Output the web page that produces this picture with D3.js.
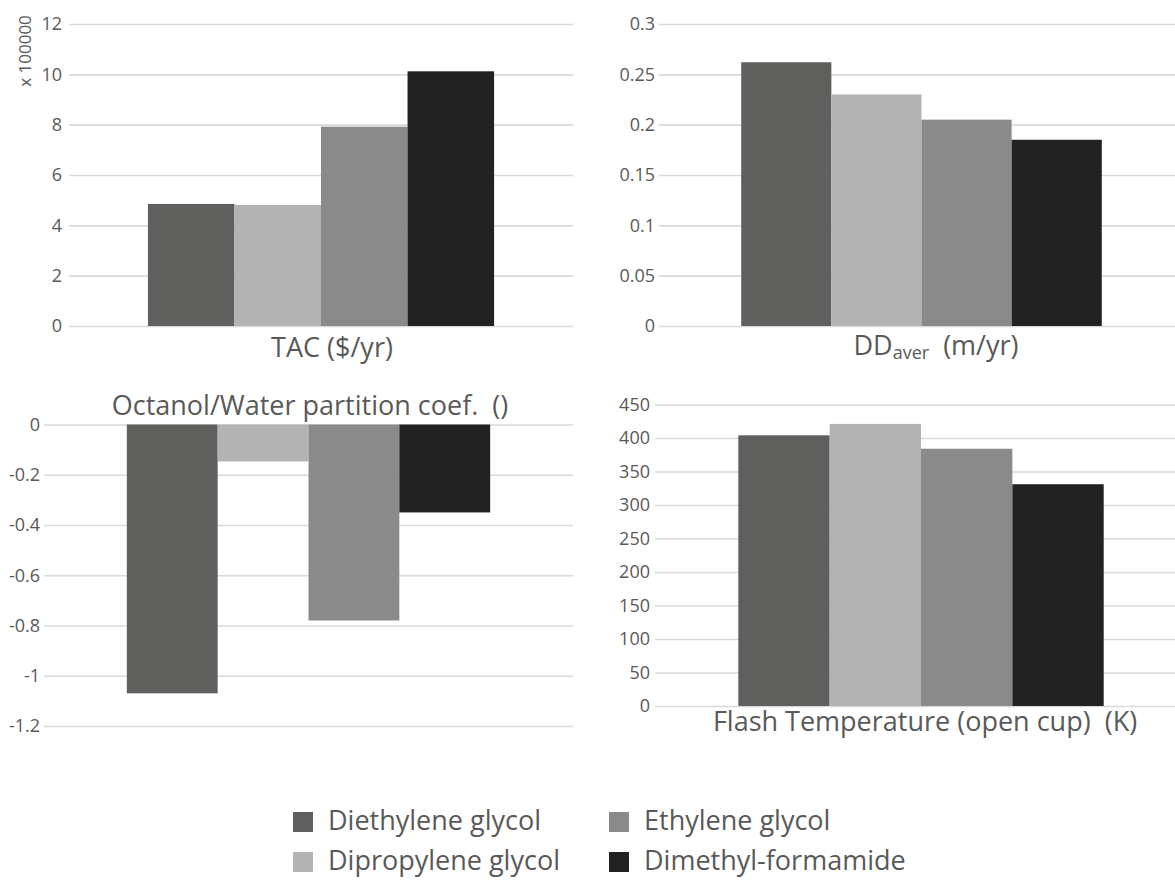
<!DOCTYPE html>
<html>
<head>
<meta charset="utf-8">
<script src="https://cdn.jsdelivr.net/npm/d3@7"></script>
<style>
  body { margin: 0; background: #fff; }
  svg text { font-family: "Open Sans", sans-serif; fill: #595959; white-space: pre; }
</style>
</head>
<body>
<svg id="chart"></svg>
<script>
const width = 1175;
const height = 882;

const solvents = ["Diethylene glycol", "Dipropylene glycol", "Ethylene glycol", "Dimethyl-formamide"];
const colors = ["#5f5f5d", "#b3b3b3", "#898a89", "#222222"];

// TAC in units of 100000 $/yr
const tacValues = [4.85, 4.81, 7.92, 10.12];
const tacTicks = [0, 2, 4, 6, 8, 10, 12];
const ddAverValues = [0.262, 0.230, 0.205, 0.185];
const ddAverTicks = [0, 0.05, 0.1, 0.15, 0.2, 0.25, 0.3];
const kowValues = [-1.07, -0.147, -0.78, -0.35];
const kowTicks = [-1.2, -1, -0.8, -0.6, -0.4, -0.2, 0];
const flashValues = [404, 421, 384, 331];
const flashTicks = [0, 50, 100, 150, 200, 250, 300, 350, 400, 450];

const svg = d3.select("#chart").attr("width", width).attr("height", height);

const color = d3.scaleOrdinal().domain(solvents).range(colors);

function drawPanel(p) {
  const g = svg.append("g");

  const y = d3.scaleLinear().domain(p.domain).range(p.yRange);

  // one category per panel, solvents side by side inside it
  const outer = d3.scaleBand().domain([p.name]).range(p.xRange).paddingOuter(0.228);
  const inner = d3.scaleBand().domain(solvents).range([0, outer.bandwidth()]);

  const axis = g.append("g")
    .attr("transform", `translate(${p.xRange[0]},0)`)
    .call(
      d3.axisLeft(y)
        .tickValues(p.ticks)
        .tickFormat((d) => String(d))
        .tickSize(-(p.xRange[1] - p.xRange[0]))
        .tickPadding(p.pad)
    );
  axis.select(".domain").remove();
  axis.selectAll(".tick line").attr("stroke", "#d9d9d9").attr("stroke-width", 1.6);
  axis.selectAll(".tick text")
    .attr("font-size", "18px")
    .attr("font-family", "Open Sans, sans-serif")
    .attr("fill", "#595959");

  g.selectAll("rect")
    .data(p.values)
    .join("rect")
    .attr("x", (d, i) => outer(p.name) + inner(solvents[i]))
    .attr("width", inner.bandwidth())
    .attr("y", (d) => Math.min(y(0), y(d)))
    .attr("height", (d) => Math.abs(y(d) - y(0)))
    .attr("fill", (d, i) => color(solvents[i]));

  const title = g.append("text")
    .attr("x", p.titleX)
    .attr("y", p.titleY)
    .attr("text-anchor", "middle")
    .attr("font-size", "27px");
  p.title.forEach((part) => {
    title.append("tspan")
      .attr("font-size", part.size || null)
      .attr("dy", part.dy || null)
      .text(part.text);
  });
}

drawPanel({
  name: "TAC",
  values: tacValues,
  ticks: tacTicks,
  domain: [0, 12],
  yRange: [326, 24],
  xRange: [69, 573],
  pad: 7,
  title: [{ text: "TAC ($/yr)" }],
  titleX: 332,
  titleY: 357
});

drawPanel({
  name: "DDaver",
  values: ddAverValues,
  ticks: ddAverTicks,
  domain: [0, 0.3],
  yRange: [326, 24],
  xRange: [659, 1184],
  pad: 4,
  title: [
    { text: "DD" },
    { text: "aver", size: "18px", dy: 4 },
    { text: "  (m/yr)", dy: -4 }
  ],
  titleX: 936,
  titleY: 355
});

drawPanel({
  name: "Kow",
  values: kowValues,
  ticks: kowTicks,
  domain: [-1.2, 0],
  yRange: [726, 424.5],
  xRange: [44, 573],
  pad: 4,
  title: [{ text: "Octanol/Water partition coef.  ()" }],
  titleX: 310,
  titleY: 415
});

drawPanel({
  name: "Flash",
  values: flashValues,
  ticks: flashTicks,
  domain: [0, 450],
  yRange: [706, 404.5],
  xRange: [655, 1187],
  pad: 5,
  title: [{ text: "Flash Temperature (open cup)  (K)" }],
  titleX: 925,
  titleY: 731
});

// axis multiplier for the TAC panel
svg.append("text")
  .attr("transform", "translate(31,51) rotate(-90)")
  .attr("text-anchor", "middle")
  .attr("font-size", "17px")
  .text("x 100000");

// legend, filled column by column
const legend = svg.append("g")
  .selectAll("g")
  .data(solvents)
  .join("g")
  .attr("transform", (d, i) => `translate(${i < 2 ? 293 : 609},${812 + (i % 2) * 40})`);

legend.append("rect")
  .attr("width", 20)
  .attr("height", 20)
  .attr("fill", (d) => color(d));

legend.append("text")
  .attr("x", 35)
  .attr("y", 18)
  .attr("font-size", "27px")
  .text((d) => d);
</script>
</body>
</html>
